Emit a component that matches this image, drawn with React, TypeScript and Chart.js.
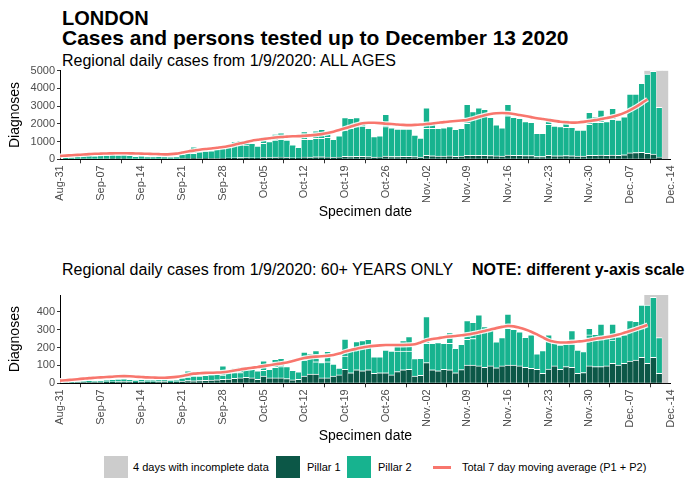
import React, { useEffect, useRef } from "react";
import { Chart, registerables } from "chart.js";
Chart.register(...registerables);

// Weekly tick labels (Aug 31 .. Dec 14)
const tickLabels = ["Aug-31", "Sep-07", "Sep-14", "Sep-21", "Sep-28", "Oct-05", "Oct-12", "Oct-19", "Oct-26", "Nov.-02", "Nov.-09", "Nov.-16", "Nov.-23", "Nov.-30", "Dec.-07", "Dec.-14"];
// day index categories: 0 = Aug 31 ... 105 = Dec 14
const dayIndex = Array.from({ length: 106 }, (_, i) => i);
const incompleteFirst = 101; // Dec 10
const incompleteLast = 104; // Dec 13
const yTicksAll = [0, 1000, 2000, 3000, 4000, 5000];
const yTicksOld = [0, 100, 200, 300, 400];

// ---- ALL AGES: Sep 1 .. Dec 13 ----
const allPillar1 = [
  20, 25, 25, 30, 30, 25, 30, 30, 35, 35,
  35, 30, 25, 30, 30, 25, 30, 30, 25, 25,
  40, 45, 55, 50, 55, 60, 60, 70, 80, 90,
  95, 100, 90, 80, 110, 100, 120, 130, 110, 90,
  80, 130, 120, 140, 140, 130, 110, 130, 170, 160,
  170, 170, 150, 120, 130, 180, 160, 160, 170, 170,
  150, 120, 230, 200, 180, 180, 190, 170, 180, 220,
  220, 230, 230, 210, 190, 180, 240, 230, 220, 210,
  210, 160, 160, 220, 200, 200, 210, 200, 180, 180,
  230, 230, 240, 220, 240, 230, 250, 360, 380, 400,
  330, 300, 130, 0,
];
const allPillar2 = [
  100, 115, 145, 170, 200, 175, 200, 210, 225, 215,
  225, 200, 145, 170, 130, 125, 140, 130, 105, 125,
  260, 305, 275, 370, 415, 420, 500, 550, 620, 720,
  715, 700, 810, 670, 790, 900, 970, 1000, 980, 720,
  600, 1000, 1010, 1040, 1040, 1110, 1020, 1190, 1480, 1590,
  1670, 1710, 1600, 1160, 1190, 1660, 1620, 1550, 1540, 1540,
  1220, 1080, 1520, 1550, 1570, 1600, 1650, 1520, 1570, 1810,
  2470, 2680, 2590, 2160, 1750, 1600, 2220, 2140, 2090, 1920,
  1880, 1310, 1310, 1750, 1680, 1640, 1600, 1610, 1470, 1470,
  1740, 1860, 1850, 1910, 2010, 1990, 2150, 3320, 3300, 3890,
  4480, 4660, 2800, 0,
];
const allPillar2Upper = [
  0, 0, 0, 0, 0, 0, 0, 0, 0, 0,
  0, 0, 0, 0, 0, 0, 0, 0, 0, 0,
  0, 0, 380, 0, 0, 0, 0, 0, 0, 200,
  250, 230, 0, 0, 380, 0, 340, 370, 0, 0,
  0, 430, 0, 430, 510, 370, 0, 0, 700, 560,
  510, 280, 0, 0, 0, 700, 0, 0, 0, 0,
  0, 0, 1160, 370, 0, 0, 0, 0, 0, 1070,
  0, 0, 0, 0, 0, 0, 640, 0, 0, 0,
  0, 0, 0, 400, 0, 0, 440, 0, 0, 0,
  680, 310, 690, 0, 630, 0, 0, 0, 0, 0,
  0, 0, 0, 0,
];
// 7-day moving average, Aug 31 .. Dec 10
const allAverage = [
  190, 210, 230, 250, 270, 290, 310, 320, 330, 335,
  340, 340, 335, 330, 320, 310, 300, 290, 280, 290,
  320, 380, 440, 490, 540, 580, 610, 650, 690, 750,
  820, 900, 980, 1050, 1100, 1150, 1190, 1230, 1260, 1280,
  1300, 1310, 1330, 1350, 1380, 1420, 1480, 1560, 1650, 1750,
  1850, 1950, 2030, 2060, 2060, 2040, 2010, 1990, 1960, 1940,
  1930, 1940, 1960, 1990, 2020, 2060, 2100, 2130, 2160, 2190,
  2220, 2300, 2400, 2490, 2560, 2600, 2610, 2600, 2560, 2500,
  2440, 2380, 2320, 2270, 2220, 2170, 2120, 2090, 2070, 2080,
  2110, 2160, 2210, 2270, 2330, 2400, 2500, 2620, 2780, 2960,
  3170, 3390,
];

// ---- 60+ YEARS: Sep 1 .. Dec 13 ----
const oldPillar1 = [
  2, 3, 4, 5, 6, 5, 6, 8, 8, 9,
  10, 9, 7, 9, 8, 8, 9, 10, 7, 8,
  12, 15, 14, 15, 16, 18, 20, 22, 24, 28,
  30, 33, 30, 22, 40, 30, 30, 30, 26, 19,
  22, 40, 51, 51, 30, 30, 40, 47, 78, 59,
  75, 70, 75, 56, 59, 59, 47, 65, 75, 78,
  40, 45, 115, 75, 70, 78, 75, 59, 76, 102,
  102, 97, 89, 97, 87, 97, 102, 102, 97, 89,
  84, 78, 56, 80, 97, 78, 93, 89, 56, 60,
  97, 93, 93, 97, 112, 102, 112, 124, 130, 145,
  112, 145, 56, 0,
];
const oldPillar2 = [
  3, 5, 6, 7, 9, 7, 8, 12, 14, 15,
  15, 13, 11, 13, 12, 12, 13, 14, 11, 12,
  18, 20, 26, 25, 29, 30, 30, 24, 36, 32,
  30, 62, 50, 48, 33, 48, 59, 63, 67, 54,
  42, 90, 114, 69, 85, 90, 68, 38, 74, 131,
  115, 130, 135, 92, 89, 126, 133, 115, 105, 102,
  98, 95, 108, 148, 157, 145, 148, 136, 142, 144,
  148, 182, 227, 213, 145, 158, 205, 200, 191, 168,
  186, 86, 126, 156, 127, 136, 126, 130, 130, 117,
  173, 147, 162, 154, 130, 158, 158, 226, 216, 292,
  325, 335, 199, 0,
];
const oldPillar2Upper = [
  0, 0, 0, 0, 0, 0, 0, 0, 0, 0,
  0, 0, 0, 0, 0, 0, 0, 0, 0, 0,
  0, 34, 0, 0, 0, 0, 0, 51, 0, 25,
  30, 0, 0, 0, 52, 0, 45, 47, 0, 0,
  0, 45, 0, 62, 0, 58, 0, 0, 95, 0,
  43, 38, 35, 0, 0, 0, 0, 43, 58, 81,
  0, 0, 149, 0, 0, 0, 60, 0, 0, 104,
  91, 103, 0, 0, 0, 0, 80, 0, 0, 0,
  0, 0, 0, 34, 0, 0, 0, 75, 0, 0,
  37, 34, 76, 0, 89, 0, 0, 0, 0, 0,
  0, 0, 0, 0,
];
const oldAverage = [
  15, 17, 20, 23, 26, 29, 31, 33, 35, 37,
  39, 40, 39, 37, 35, 33, 32, 31, 31, 33,
  36, 41, 48, 54, 56, 58, 59, 60, 62, 66,
  71, 77, 82, 87, 91, 96, 101, 106, 111, 116,
  124, 133, 141, 146, 149, 151, 154, 158, 166, 177,
  186, 193, 200, 205, 209, 212, 214, 214, 214, 214,
  215, 218, 228, 240, 247, 252, 257, 261, 264, 268,
  272, 278, 285, 292, 300, 308, 315, 320, 318, 310,
  300, 288, 273, 256, 240, 232, 228, 228, 230, 233,
  236, 242, 248, 253, 258, 264, 272, 282, 292, 303,
  314, 326,
];

const FONT = "'Liberation Sans', Arial, sans-serif";
const C_P1 = "#0C5747";
const C_P2 = "#17B38F";
const C_GREY = "#CCCCCC";
const C_LINE = "#F8766D";

type PanelProps = {
  top: number;
  height: number;
  plotTop: number;
  yMax: number;
  yTicks: number[];
  p1: number[];
  p2: number[];
  p2u: number[];
  avg: number[];
};

function Panel({ top, height, plotTop, yMax, yTicks, p1, p2, p2u, avg }: PanelProps) {
  const ref = useRef<HTMLCanvasElement>(null);
  useEffect(() => {
    const pad = (arr: number[]) => [null, ...arr, null];
    const avgData = dayIndex.map((k) => (k < avg.length ? avg[k] : null));
    const grey = dayIndex.map((k) => (k >= incompleteFirst && k <= incompleteLast ? yMax : null));
    const barBase: any = {
      type: "bar",
      barPercentage: 1,
      categoryPercentage: 1,
      borderColor: "#ffffff",
      borderWidth: { top: 1, left: 0.5, right: 0.5, bottom: 0 },
      borderSkipped: "start",
      stack: "cases",
      order: 2,
    };
    const chart = new Chart(ref.current as HTMLCanvasElement, {
      type: "bar",
      data: {
        labels: dayIndex,
        datasets: [
          { ...barBase, label: "Pillar 1", data: pad(p1), backgroundColor: C_P1 },
          { ...barBase, label: "Pillar 2", data: pad(p2), backgroundColor: C_P2 },
          { ...barBase, label: "Pillar 2 (b)", data: pad(p2u), backgroundColor: C_P2 },
          {
            type: "bar",
            label: "4 days with incomplete data",
            data: grey,
            backgroundColor: C_GREY,
            borderWidth: 0,
            barPercentage: 1,
            categoryPercentage: 1,
            grouped: false,
            stack: "bg",
            order: 3,
          } as any,
          {
            type: "line",
            label: "halo",
            data: avgData,
            borderColor: "rgba(255,255,255,0.9)",
            borderWidth: 5,
            pointRadius: 0,
            tension: 0.3,
            stack: "line1",
            order: 1,
          } as any,
          {
            type: "line",
            label: "Total 7 day moving average (P1 + P2)",
            data: avgData,
            borderColor: C_LINE,
            borderWidth: 2.6,
            pointRadius: 0,
            tension: 0.3,
            stack: "line2",
            order: 0,
          } as any,
        ],
      },
      options: {
        responsive: false,
        devicePixelRatio: 1,
        animation: false,
        events: [],
        layout: { padding: { left: 0, right: 13, top: plotTop - top, bottom: 0 } },
        plugins: { legend: { display: false }, tooltip: { enabled: false } },
        scales: {
          x: {
            type: "category",
            stacked: true,
            offset: false,
            grid: { display: true, drawOnChartArea: false, drawTicks: true, tickLength: 4, color: "#333333" },
            border: { display: true, color: "#000000", width: 1 },
            ticks: {
              autoSkip: false,
              minRotation: 90,
              maxRotation: 90,
              padding: 2,
              color: "#4D4D4D",
              font: { family: FONT, size: 11 },
              callback: (_v: any, i: number) => (i % 7 === 0 ? tickLabels[i / 7] : null),
            },
            title: {
              display: true,
              text: "Specimen date",
              color: "#000000",
              font: { family: FONT, size: 14 },
              padding: { top: 0, bottom: 4 },
            },
            afterFit: (s: any) => {
              s.height = 65.7;
            },
          },
          y: {
            stacked: true,
            min: 0,
            max: yMax,
            grid: { display: true, drawOnChartArea: false, drawTicks: true, tickLength: 3, color: "#333333" },
            border: { display: true, color: "#000000", width: 1 },
            ticks: {
              autoSkip: false,
              padding: 2,
              color: "#4D4D4D",
              font: { family: FONT, size: 11 },
              callback: (v: any) => String(v),
            },
            afterBuildTicks: (s: any) => {
              s.ticks = yTicks.map((v) => ({ value: v }));
            },
            title: {
              display: true,
              text: "Diagnoses",
              color: "#000000",
              font: { family: FONT, size: 14 },
              padding: { top: 7, bottom: 0 },
            },
            afterFit: (s: any) => {
              s.width = 60;
            },
          },
        },
      } as any,
    });
    return () => chart.destroy();
  }, []);
  return (
    <canvas
      ref={ref}
      width={686}
      height={height}
      style={{ position: "absolute", left: 0, top, width: 686, height }}
    />
  );
}

const textBase: React.CSSProperties = {
  position: "absolute",
  fontFamily: FONT,
  lineHeight: 1,
  whiteSpace: "nowrap",
  color: "#000",
};

function LegendBox({ left, color, label, labelLeft }: { left: number; color: string; label: string; labelLeft: number }) {
  return (
    <>
      <div style={{ position: "absolute", left, top: 456, width: 24, height: 22, background: color }} />
      <div style={{ ...textBase, left: labelLeft, top: 461.5, fontSize: 11 }}>{label}</div>
    </>
  );
}

export default function App() {
  return (
    <div style={{ position: "absolute", left: 0, top: 0, width: 686, height: 485, background: "#fff", overflow: "hidden" }}>
      <div style={{ ...textBase, left: 62, top: 8.1, fontSize: 20, fontWeight: "bold" }}>LONDON</div>
      <div style={{ ...textBase, left: 62, top: 26.5, fontSize: 21, fontWeight: "bold" }}>
        Cases and persons tested up to December 13 2020
      </div>
      <div style={{ ...textBase, left: 62, top: 53.2, fontSize: 16 }}>Regional daily cases from 1/9/2020: ALL AGES</div>
      <Panel top={55} height={170} plotTop={70.7} yMax={5000} yTicks={yTicksAll} p1={allPillar1} p2={allPillar2} p2u={allPillar2Upper} avg={allAverage} />
      <div style={{ ...textBase, left: 62, top: 261.5, fontSize: 16 }}>Regional daily cases from 1/9/2020: 60+ YEARS ONLY</div>
      <div style={{ ...textBase, left: 472, top: 261.5, fontSize: 16, fontWeight: "bold" }}>NOTE: different y-axis scale</div>
      <Panel top={280} height={169} plotTop={295} yMax={493} yTicks={yTicksOld} p1={oldPillar1} p2={oldPillar2} p2u={oldPillar2Upper} avg={oldAverage} />
      <LegendBox left={104} color={C_GREY} label="4 days with incomplete data" labelLeft={133} />
      <LegendBox left={276} color={C_P1} label="Pillar 1" labelLeft={307} />
      <LegendBox left={347} color={C_P2} label="Pillar 2" labelLeft={378} />
      <div style={{ position: "absolute", left: 433, top: 465.5, width: 18, height: 3, background: C_LINE }} />
      <div style={{ ...textBase, left: 462, top: 461.5, fontSize: 11 }}>Total 7 day moving average (P1 + P2)</div>
    </div>
  );
}
